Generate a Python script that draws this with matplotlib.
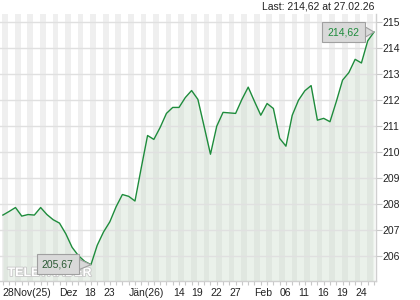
import matplotlib
matplotlib.use("Agg")
import matplotlib.pyplot as plt
import matplotlib.patheffects as pe
import numpy as np

plt.rcParams['font.family'] = ['Liberation Sans', 'DejaVu Sans']

# ---- data ----
values = [207.58, 207.72, 207.87, 207.54, 207.60, 207.58, 207.87, 207.60, 207.40, 207.27,
          206.86, 206.34, 206.02, 205.80, 205.67, 206.42, 206.93, 207.32, 207.90, 208.37,
          208.30, 208.12, 209.40, 210.64, 210.49, 210.95, 211.49, 211.72, 211.72, 212.10,
          212.37, 212.03, 210.98, 209.92, 211.00, 211.53, 211.51, 211.49, 212.03, 212.50,
          211.95, 211.42, 211.87, 211.68, 210.53, 210.23, 211.42, 212.00, 212.36, 212.56,
          211.23, 211.30, 211.17, 211.94, 212.77, 213.06, 213.57, 213.43, 214.28, 214.62]
tick_idx = [0, 9, 13, 16, 20, 27, 30, 33, 36, 40, 44, 47, 50, 53, 56]
tick_labels = ["28Nov(25)", "Dez", "18", "23", "Jän(26)", "14", "19", "22", "27",
               "Feb", "06", "11", "16", "19", "24"]
y_ticks = [206, 207, 208, 209, 210, 211, 212, 213, 214, 215]
last_label = "214,62"
min_label = "205,67"
header = "Last: 214,62 at 27.02.26"

x = np.arange(len(values))
vals = np.array(values)

fig = plt.figure(figsize=(4.2, 3.0), dpi=100)
fig.patch.set_facecolor('white')
ax = fig.add_axes([0.0, 0.063, 0.895, 0.89])
ax.set_facecolor('white')

xlo, xhi = -0.46, 59.3
ylo, yhi = 205.04, 215.31
ax.set_xlim(xlo, xhi)
ax.set_ylim(ylo, yhi)

# alternating day stripes
for i in range(0, len(values) + 1, 2):
    ax.axvspan(i - 0.1, i + 0.8, color='#efefef', lw=0, zorder=0)

# fill under line
ax.fill_between(x, vals, ylo, color='#c9dcc9', alpha=0.38, lw=0, zorder=1)

# horizontal grid
for yv in y_ticks:
    ax.axhline(yv, color='#e0e0e0', lw=1.0, zorder=2)

ax.plot(x, vals, color='#1e8c3c', lw=1.0, zorder=3)

# axes styling
for s in ['top', 'left']:
    ax.spines[s].set_visible(False)
for s in ['right', 'bottom']:
    ax.spines[s].set_color('#d0d0d0')
    ax.spines[s].set_linewidth(1.0)

ax.yaxis.tick_right()
ax.set_yticks(y_ticks)
ax.set_yticklabels([str(v) for v in y_ticks])
ax.tick_params(axis='y', length=4, width=0.8, color='#c8c8c8', labelsize=7.5,
               labelcolor='#222222', pad=1)

ax.set_xticks(tick_idx)
ax.set_xticklabels(tick_labels, ha='left')
ax.set_xticks(x, minor=True)
ax.tick_params(axis='x', which='major', length=3, width=0.8, color='#c8c8c8',
               labelsize=7.5, labelcolor='#222222', pad=2)
ax.tick_params(axis='x', which='minor', length=3, width=0.8, color='#c8c8c8')

# header text
fig.text(0.892, 0.977, header, ha='right', va='center', fontsize=7.5, color='#222222')

# watermark
ax.text(0.02, 0.03, "TELETRADER", transform=ax.transAxes, fontsize=9,
        color='white', fontweight='bold', ha='left', va='center', zorder=4,
        path_effects=[pe.withStroke(linewidth=1.2, foreground='#c8c8c8')])

# annotation boxes
imax = len(values) - 1
imin = int(np.argmin(vals))
box = dict(boxstyle='square,pad=0.5', fc='#d9d9d9', ec='#a0a0a0', lw=0.8)
arrow = dict(arrowstyle='wedge,tail_width=1.0,shrink_factor=0.5', fc='#d9d9d9',
             ec='#a0a0a0', lw=0.8, shrinkA=0, shrinkB=0)
ax.annotate(last_label, xy=(x[imax], vals[imax]), xytext=(-22, 0),
            textcoords='offset points', ha='center', va='center',
            fontsize=7.5, color='#1e8c3c', bbox=box, arrowprops=arrow, zorder=6)
ax.annotate(min_label, xy=(x[imin], vals[imin]), xytext=(-24, 0.5),
            textcoords='offset points', ha='center', va='center',
            fontsize=7.5, color='#2b5a35', bbox=box, arrowprops=arrow, zorder=6)

fig.savefig('out.png', dpi=100)
